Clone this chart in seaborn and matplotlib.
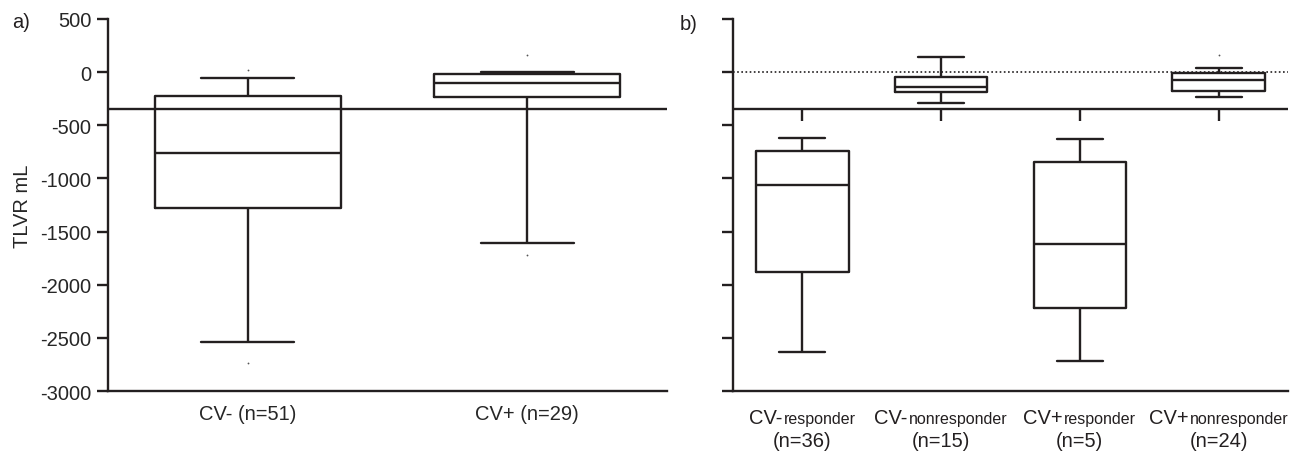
import numpy as np
import pandas as pd
import matplotlib
matplotlib.use("Agg")
import matplotlib.pyplot as plt
import seaborn as sns
from matplotlib.offsetbox import TextArea, HPacker, VPacker, AnnotationBbox

# Panel a : TLVR par groupe CV (résumé en 5 valeurs)
a_groups = ["CV- (n=51)", "CV+ (n=29)"]
a_whislo = [-2542, -1611]
a_q1 = [-1278, -237]
a_med = [-761, -103]
a_q3 = [-228, -18]
a_whishi = [-58, -2]
a_dot_groups = ["CV- (n=51)", "CV- (n=51)", "CV+ (n=29)", "CV+ (n=29)"]
a_dot_values = [17, -2737, 161, -1720]

# Panel b : répondeurs / non-répondeurs
b_groups = ["CV-responder", "CV-nonresponder", "CV+responder", "CV+nonresponder"]
b_main = ["CV-", "CV-", "CV+", "CV+"]
b_sub = ["responder", "nonresponder", "responder", "nonresponder"]
b_n = ["(n=36)", "(n=15)", "(n=5)", "(n=24)"]
b_whislo = [-2636, -291, -2715, -237]
b_q1 = [-1878, -184, -2219, -175]
b_med = [-1062, -143, -1617, -74]
b_q3 = [-739, -49, -843, -11]
b_whishi = [-617, 139, -629, 36]
b_dot_groups = ["CV+nonresponder"]
b_dot_values = [161]

threshold = -350
y_ticks = [500, 0, -500, -1000, -1500, -2000, -2500, -3000]

LINE = "#231f20"
FS = 14.5
FS_SUB = 11.5


def five_numbers(groups, lo, q1, med, q3, hi):
    """Table longue : 5 valeurs par groupe -> quartiles exacts avec whis=(0, 100)."""
    rows = []
    for g, a, b, c, d, e in zip(groups, lo, q1, med, q3, hi):
        for v in (a, b, c, d, e):
            rows.append({"group": g, "value": v})
    return pd.DataFrame(rows)


def draw_boxes(ax, df, order, dot_groups, dot_values):
    sns.boxplot(data=df, x="group", y="value", order=order, ax=ax,
                whis=(0, 100), fill=False, color=LINE, saturation=1,
                width=0.665, linewidth=1.7, showfliers=False)
    sns.stripplot(x=dot_groups, y=dot_values, order=order, ax=ax,
                  jitter=False, size=1.3, color="#555555")
    ax.set_ylim(-3000, 500)
    ax.set_xlim(-0.5, len(order) - 0.5)
    ax.set_yticks(y_ticks)
    ax.set_xlabel("")
    ax.set_ylabel("")
    for side in ("top", "right"):
        ax.spines[side].set_visible(False)
    for side in ("left", "bottom"):
        ax.spines[side].set_linewidth(1.7)
        ax.spines[side].set_color(LINE)
    ax.tick_params(axis="y", length=8, width=1.7, color=LINE, labelsize=FS, pad=4)
    ax.tick_params(axis="x", length=0, labelsize=FS, pad=9)


sns.set_style("ticks")
plt.rcParams["font.family"] = ["Liberation Sans", "DejaVu Sans"]
plt.rcParams["text.color"] = LINE
plt.rcParams["axes.unicode_minus"] = False

fig = plt.figure(figsize=(12.93, 4.52), dpi=100)
ax_a = fig.add_axes([0.0835, 0.1327, 0.4323, 0.8231])
ax_b = fig.add_axes([0.5669, 0.1327, 0.4292, 0.8231])

# a)
df_a = five_numbers(a_groups, a_whislo, a_q1, a_med, a_q3, a_whishi)
draw_boxes(ax_a, df_a, a_groups, a_dot_groups, a_dot_values)
ax_a.axhline(threshold, color=LINE, lw=1.7, zorder=1)
ax_a.set_ylabel("TLVR mL", fontsize=FS, labelpad=6)
ax_a.set_xticks(range(len(a_groups)))
ax_a.set_xticklabels(a_groups)

# b)
df_b = five_numbers(b_groups, b_whislo, b_q1, b_med, b_q3, b_whishi)
draw_boxes(ax_b, df_b, b_groups, b_dot_groups, b_dot_values)
ax_b.axhline(threshold, color=LINE, lw=1.7, zorder=1)
ax_b.axhline(0, color=LINE, lw=1.2, ls=(0, (1, 1.5)), zorder=1)
ax_b.vlines(range(len(b_groups)), threshold - 110, threshold, color=LINE, lw=1.7)
ax_b.tick_params(axis="y", labelleft=False)
ax_b.set_xticks(range(len(b_groups)))
ax_b.set_xticklabels([])

for i, (m, s, n) in enumerate(zip(b_main, b_sub, b_n)):
    line1 = HPacker(children=[TextArea(m, textprops=dict(size=FS, color=LINE)),
                              TextArea(s, textprops=dict(size=FS_SUB, color=LINE))],
                    align="baseline", pad=0, sep=1)
    line2 = TextArea(n, textprops=dict(size=FS, color=LINE))
    box = VPacker(children=[line1, line2], align="center", pad=0, sep=3)
    ab = AnnotationBbox(box, (i, 0), xycoords=("data", "axes fraction"),
                        xybox=(0, -12), boxcoords="offset points",
                        box_alignment=(0.5, 1), frameon=False, pad=0)
    ax_b.add_artist(ab)

fig.text(0.009, 0.95, "a)", fontsize=FS, va="center", ha="left")
fig.text(0.526, 0.945, "b)", fontsize=FS, va="center", ha="left")

fig.savefig("out.png", dpi=100)
